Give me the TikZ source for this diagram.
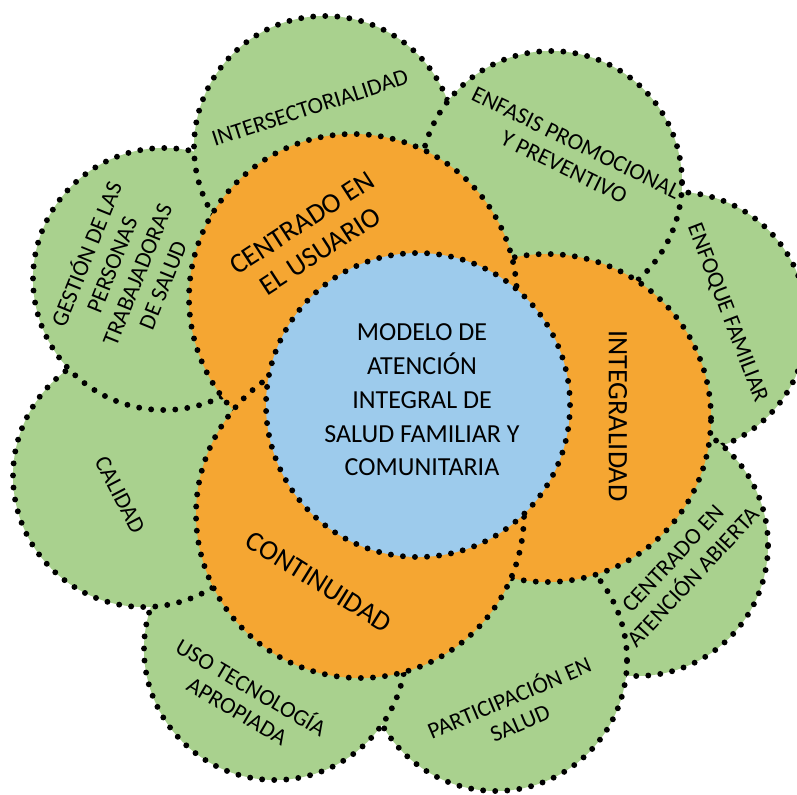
\documentclass[tikz,border=0pt]{standalone}
\usepackage{fontspec}
\setmainfont{Carlito}

\definecolor{petalgreen}{RGB}{169,209,142}
\definecolor{ringorange}{RGB}{245,166,50}
\definecolor{coreblue}{RGB}{157,203,236}

\begin{document}
\begin{tikzpicture}[
    dotline/.style={draw=black, line width=4.2pt, dash pattern=on 0pt off 8.6pt, line cap=round},
    petal/.style={circle, dotline, fill=petalgreen, minimum size=6.55cm, inner sep=0pt},
    ring/.style={circle, dotline, fill=ringorange, minimum size=8.2cm, inner sep=0pt},
    core/.style={circle, dotline, fill=coreblue, minimum size=7.6cm, inner sep=0pt},
    petaltext/.style={align=center, font=\fontsize{16.5}{19.5}\selectfont},
    ringtext/.style={align=center, font=\fontsize{20}{24}\selectfont},
    coretext/.style={align=center, font=\fontsize{18.5}{24}\selectfont}]
  \clip (0,0) rectangle (19.925,19.85);

  % petals, back to front
  \node[petal] (enfoque) at (16.9,11.775) {};
  \node[petal] (abierta) at (15.925,6.225) {};
  \node[petal] (particip) at (12.4,3.35) {};
  \node[petal] (tecno) at (6.875,3.625) {};
  \node[petal] (calidad) at (3.6,7.95) {};
  \node[petal] (gestion) at (4.1,12.875) {};
  \node[petal] (intersec) at (8.125,16.175) {};
  \node[petal] (enfasis) at (13.775,15.3) {};

  % ring of three
  \node[ring] (integral) at (13.675,9.4) {};
  \node[ring] (usuario) at (8.825,12.4) {};
  \node[ring] (continuidad) at (9.0,7.0) {};

  % core
  \node[core] (modelo) at (10.45,9.725) {};

  % petal labels
  \node[petaltext, rotate=18] (intersecLbl) at (7.75,17.15) {INTERSECTORIALIDAD};
  \node[petaltext, rotate=-26] (enfasisLbl) at (14.25,15.975) {ENFASIS PROMOCIONAL\\Y PREVENTIVO};
  \node[petaltext, rotate=-69] (enfoqueLbl) at (18.175,12.025) {ENFOQUE FAMILIAR};
  \node[petaltext, rotate=47] (abiertaLbl) at (17.075,5.65) {CENTRADO EN\\ATENCIÓN ABIERTA};
  \node[petaltext, rotate=23] (participLbl) at (12.85,2.125) {PARTICIPACIÓN EN\\SALUD};
  \node[petaltext, rotate=-30.5] (tecnoLbl) at (6.125,2.4) {USO TECNOLOGÍA\\APROPIADA};
  \node[petaltext, rotate=-62.5] (calidadLbl) at (3.0,7.475) {CALIDAD};
  \node[petaltext, rotate=68] (gestionLbl) at (3.075,13.125) {GESTIÓN DE LAS\\PERSONAS\\TRABAJADORAS\\DE SALUD};

  % ring labels
  \node[ringtext, rotate=33] (usuarioLbl) at (7.775,13.925) {CENTRADO EN\\EL USUARIO};
  \node[ringtext, rotate=-90] (integralLbl) at (15.45,9.45) {INTEGRALIDAD};
  \node[ringtext, rotate=-32] (continuidadLbl) at (7.975,5.3) {CONTINUIDAD};

  \node[coretext] (modeloLbl) at (10.55,9.85) {MODELO DE\\ATENCIÓN\\INTEGRAL DE\\SALUD FAMILIAR Y\\COMUNITARIA};
\end{tikzpicture}
\end{document}
